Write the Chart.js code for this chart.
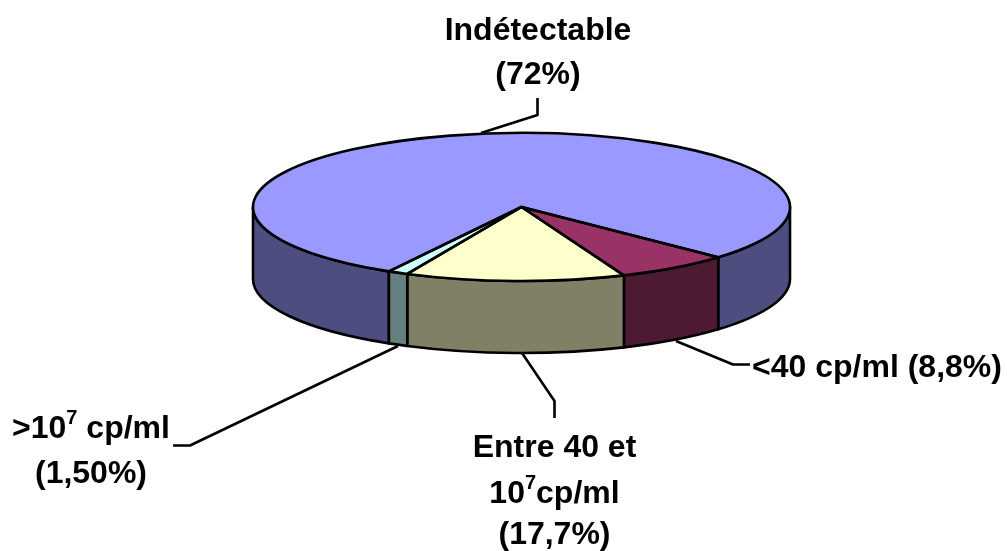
<!DOCTYPE html>
<html>
<head>
<meta charset="utf-8">
<style>html,body{margin:0;padding:0;background:#fff}canvas{display:block}</style>
<script src="https://cdn.jsdelivr.net/npm/chart.js@4"></script>
</head>
<body>
<canvas id="pie" width="1007" height="551"></canvas>
<script>
// Viral load categories and their shares (%)
const categories = ['Indétectable', '<40 cp/ml', 'Entre 40 et 10^7 cp/ml', '>10^7 cp/ml'];
const shares = [72, 8.8, 17.7, 1.5];
const topColors = ['#9999FF', '#993366', '#FFFFCC', '#CCFFFF'];
const wallColors = ['#4D4D80', '#4D1933', '#808066', '#668080'];

// Callout text: each line is a list of runs, a run may be a superscript
const callouts = [
  { cx: 538, lines: [{ y: 40, runs: [['Indétectable']] }, { y: 84, runs: [['(72%)']] }],
    leader: [[481, 133], [537.5, 115], [537.5, 98]] },
  { cx: 877, lines: [{ y: 377, runs: [['<40 cp/ml (8,8%)']] }],
    leader: [[676, 341], [733, 364.5], [750, 364.5]] },
  { cx: 554.5, lines: [{ y: 457, runs: [['Entre 40 et']] },
                       { y: 503, runs: [['10'], ['7', true], ['cp/ml']] },
                       { y: 544, runs: [['(17,7%)']] }],
    leader: [[522, 353], [554.5, 401], [554.5, 418]] },
  { cx: 91, lines: [{ y: 438, runs: [['>10'], ['7', true], [' cp/ml']] },
                    { y: 483, runs: [['(1,50%)']] }],
    leader: [[398, 346], [190, 445.5], [173, 445.5]] }
];

// View of the tilted disc
const CENTER_X = 521.5, CENTER_Y = 207, RADIUS = 268.5;
const TILT = 74 / 268.5, DEPTH = 72;
// Foreshortening of the slice angles towards the front of the disc
const WARP = 0.273, WARP_AXIS = 81.65 * Math.PI / 180;
const warp = a => a - WARP * Math.sin(a - WARP_AXIS);

const LINE_WIDTH = 2.6;
const FONT = 'bold 32px "Liberation Sans", Arial, sans-serif';
const SUP_FONT = 'bold 20px "Liberation Sans", Arial, sans-serif';

const tiltedPie = {
  id: 'tiltedPie',
  afterDatasetsUpdate(chart) {
    for (const arc of chart.getDatasetMeta(0).data) {
      const s = warp(arc.startAngle), e = warp(arc.endAngle);
      arc.startAngle = s; arc.endAngle = e; arc.circumference = e - s;
    }
  },
  beforeDatasetsDraw(chart) {
    const { ctx } = chart;
    const arcs = chart.getDatasetMeta(0).data;
    const ry = RADIUS * TILT;
    ctx.save();
    ctx.lineWidth = LINE_WIDTH; ctx.strokeStyle = '#000'; ctx.lineJoin = 'round';
    arcs.forEach((arc, i) => {
      // Only the part of a slice on the front half of the rim shows a wall
      for (const shift of [0, 2 * Math.PI]) {
        const a0 = Math.max(arc.startAngle, shift), a1 = Math.min(arc.endAngle, shift + Math.PI);
        if (a1 <= a0) continue;
        ctx.beginPath();
        ctx.ellipse(CENTER_X, CENTER_Y, RADIUS, ry, 0, a0, a1);
        ctx.ellipse(CENTER_X, CENTER_Y + DEPTH, RADIUS, ry, 0, a1, a0, true);
        ctx.closePath();
        ctx.fillStyle = wallColors[i];
        ctx.fill(); ctx.stroke();
      }
    });
    ctx.restore();
    // Top face: the arcs draw themselves in the squashed coordinate system
    const first = arcs[0];
    ctx.save();
    ctx.translate(CENTER_X, CENTER_Y);
    ctx.scale(1, TILT);
    ctx.translate(-first.x, -first.y);
  },
  afterDatasetsDraw(chart) {
    const { ctx } = chart;
    ctx.restore();
    const arcs = chart.getDatasetMeta(0).data;
    ctx.save();
    ctx.lineWidth = LINE_WIDTH; ctx.strokeStyle = '#000'; ctx.lineJoin = 'round';
    for (const arc of arcs) {
      ctx.beginPath();
      ctx.moveTo(CENTER_X, CENTER_Y);
      ctx.ellipse(CENTER_X, CENTER_Y, RADIUS, RADIUS * TILT, 0, arc.startAngle, arc.endAngle);
      ctx.closePath();
      ctx.stroke();
    }
    // Callouts
    ctx.fillStyle = '#000';
    ctx.textBaseline = 'alphabetic';
    ctx.textAlign = 'left';
    for (const c of callouts) {
      ctx.beginPath();
      c.leader.forEach(([x, y], i) => i ? ctx.lineTo(x, y) : ctx.moveTo(x, y));
      ctx.stroke();
      for (const line of c.lines) {
        let width = 0;
        for (const [text, sup] of line.runs) {
          ctx.font = sup ? SUP_FONT : FONT;
          width += ctx.measureText(text).width;
        }
        let x = c.cx - width / 2;
        for (const [text, sup] of line.runs) {
          ctx.font = sup ? SUP_FONT : FONT;
          ctx.fillText(text, x, sup ? line.y - 14 : line.y);
          x += ctx.measureText(text).width;
        }
      }
    }
    ctx.restore();
  }
};

new Chart(document.getElementById('pie'), {
  type: 'pie',
  data: {
    labels: categories,
    datasets: [{
      data: shares,
      backgroundColor: topColors,
      borderWidth: 0,
      radius: RADIUS,
      rotation: 221.55
    }]
  },
  options: {
    responsive: false,
    animation: false,
    plugins: { legend: { display: false }, tooltip: { enabled: false } }
  },
  plugins: [tiltedPie]
});
</script>
</body>
</html>
